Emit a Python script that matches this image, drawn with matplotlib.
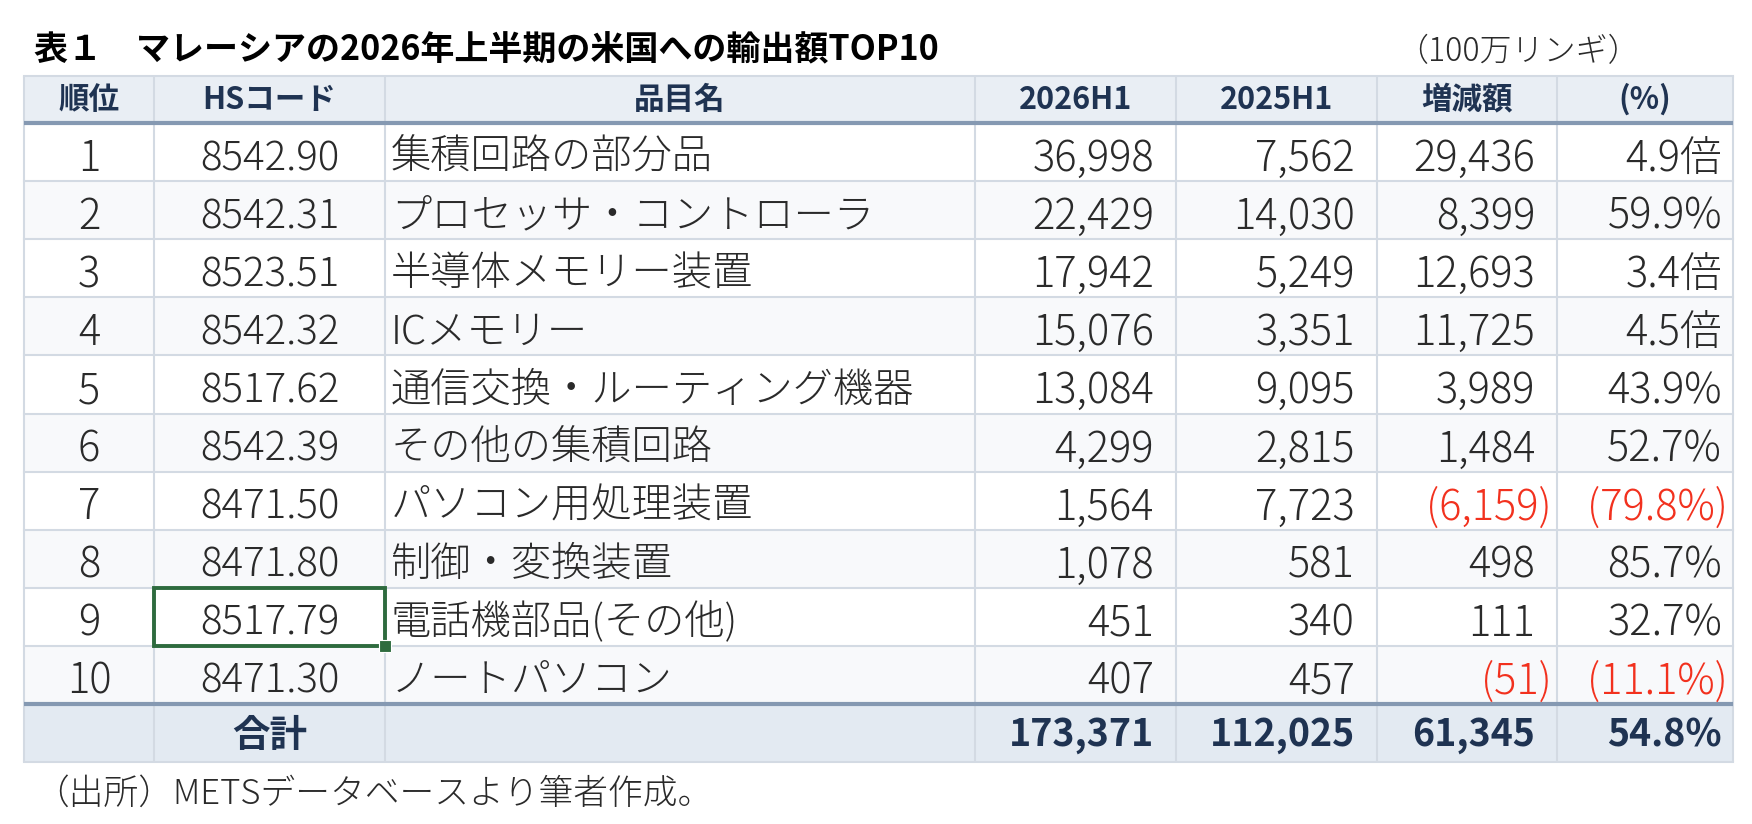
import matplotlib
matplotlib.use('Agg')
import matplotlib.pyplot as plt
from matplotlib.patches import Rectangle

plt.rcParams['font.family'] = ['Noto Sans CJK JP', 'DejaVu Sans']

# ---------------- data ----------------
title = "表１　マレーシアの2026年上半期の米国への輸出額TOP10"
unit = "（100万リンギ）"
source = "（出所）METSデータベースより筆者作成。"
headers = ["順位", "HSコード", "品目名", "2026H1", "2025H1", "増減額", "(%)"]
ranks = [1, 2, 3, 4, 5, 6, 7, 8, 9, 10]
hs_codes = ["8542.90", "8542.31", "8523.51", "8542.32", "8517.62",
            "8542.39", "8471.50", "8471.80", "8517.79", "8471.30"]
items = ["集積回路の部分品", "プロセッサ・コントローラ", "半導体メモリー装置",
         "ICメモリー", "通信交換・ルーティング機器", "その他の集積回路",
         "パソコン用処理装置", "制御・変換装置", "電話機部品(その他)", "ノートパソコン"]
val_2026 = [36998, 22429, 17942, 15076, 13084, 4299, 1564, 1078, 451, 407]
val_2025 = [7562, 14030, 5249, 3351, 9095, 2815, 7723, 581, 340, 457]
change = [29436, 8399, 12693, 11725, 3989, 1484, -6159, 498, 111, -51]
pct_labels = ["4.9倍", "59.9%", "3.4倍", "4.5倍", "43.9%", "52.7%",
              "(79.8%)", "85.7%", "32.7%", "(11.1%)"]
total_label = "合計"
total_2026 = 173371
total_2025 = 112025
total_change = 61345
total_pct = "54.8%"

# ---------------- layout / style ----------------
W, H = 1752, 824
col_edges = [24, 154, 385, 975, 1176, 1377, 1557, 1733]
head_top, head_bot = 76, 123
row_h = (704 - 123) / 10
total_bot = 762

navy = '#1F3352'
body_col = '#2A2A2A'
red = '#F2311E'
grid_col = '#D3DAE3'
thick_col = '#8599B2'
head_bg = '#E9EEF4'
total_bg = '#E3EAF2'
alt_bg = '#F8F9FB'
sel_col = '#2E6B3E'
body_w = 300

fig = plt.figure(figsize=(W / 100, H / 100), dpi=100)
ax = fig.add_axes([0, 0, 1, 1])
ax.set_xlim(0, W)
ax.set_ylim(H, 0)
ax.axis('off')

x0, x1 = col_edges[0], col_edges[-1]
n = len(ranks)
row_tops = [head_bot + i * row_h for i in range(n)]
total_top = head_bot + n * row_h

# backgrounds
ax.add_patch(Rectangle((x0, head_top), x1 - x0, head_bot - head_top, facecolor=head_bg, edgecolor='none', zorder=0))
for i, t in enumerate(row_tops):
    fc = 'white' if i % 2 == 0 else alt_bg
    ax.add_patch(Rectangle((x0, t), x1 - x0, row_h, facecolor=fc, edgecolor='none', zorder=0))
ax.add_patch(Rectangle((x0, total_top), x1 - x0, total_bot - total_top, facecolor=total_bg, edgecolor='none', zorder=0))

# grid lines
gw = 1.5
for xe in col_edges:
    ax.plot([xe, xe], [head_top, total_bot], color=grid_col, lw=gw, zorder=1, solid_capstyle='butt')
ax.plot([x0, x1], [head_top, head_top], color=grid_col, lw=gw, zorder=1)
for t in row_tops[1:]:
    ax.plot([x0, x1], [t, t], color=grid_col, lw=gw, zorder=1)
ax.plot([x0, x1], [total_bot, total_bot], color=grid_col, lw=gw, zorder=1)
ax.plot([x0, x1], [head_bot, head_bot], color=thick_col, lw=3.0, zorder=2, solid_capstyle='butt')
ax.plot([x0, x1], [total_top, total_top], color=thick_col, lw=3.0, zorder=2, solid_capstyle='butt')

# title, unit, source
ax.text(34, 50, title, fontsize=24.5, fontweight='bold', color='black', ha='left', va='center')
ax.text(1640, 52, unit, fontsize=23, color=body_col, ha='right', va='center', fontweight=body_w)
ax.text(34, 794, source, fontsize=25, color=body_col, ha='left', va='center', fontweight=body_w)

# header
head_y = (head_top + head_bot) / 2
for j, h in enumerate(headers):
    cx = (col_edges[j] + col_edges[j + 1]) / 2
    ax.text(cx, head_y, h, fontsize=22, fontweight='bold', color=navy, ha='center', va='center')

def fmt(v):
    return f"({abs(v):,})" if v < 0 else f"{v:,}"

pad_pos, pad_neg, pad_pct = 22, 5, 11
fs_num = 30
fs_txt = 29
dy = 7

def num_cell(j, y, v, **kw):
    s = fmt(v)
    neg = v < 0
    xr = col_edges[j + 1] - (pad_neg if neg else pad_pos)
    ax.text(xr, y, s, ha='right', va='center', color=red if neg else kw.get('color', body_col),
            fontsize=kw.get('fontsize', fs_num), fontweight=kw.get('fontweight', body_w))

def pct_cell(y, s, **kw):
    neg = s.startswith('(')
    xr = col_edges[7] - (pad_neg if neg else pad_pct)
    ax.text(xr, y, s, ha='right', va='center', color=red if neg else kw.get('color', body_col),
            fontsize=kw.get('fontsize', fs_num), fontweight=kw.get('fontweight', body_w))

for i in range(n):
    y = row_tops[i] + row_h / 2 + dy
    ax.text((col_edges[0] + col_edges[1]) / 2, y, str(ranks[i]), fontsize=fs_num, color=body_col,
            ha='center', va='center', fontweight=body_w)
    ax.text((col_edges[1] + col_edges[2]) / 2, y, hs_codes[i], fontsize=29, color=body_col,
            ha='center', va='center', fontweight=body_w)
    ax.text(col_edges[2] + 6, y - 1, items[i], fontsize=fs_txt, color=body_col,
            ha='left', va='center', fontweight=body_w)
    num_cell(3, y, val_2026[i])
    num_cell(4, y, val_2025[i])
    num_cell(5, y, change[i])
    pct_cell(y, pct_labels[i])

# total row
ty = (total_top + total_bot) / 2 + 2
ax.text((col_edges[1] + col_edges[2]) / 2, ty, total_label, fontsize=27, fontweight='bold', color=navy, ha='center', va='center')
for j, v in zip([3, 4, 5], [total_2026, total_2025, total_change]):
    num_cell(j, ty, v, color=navy, fontsize=27, fontweight='bold')
pct_cell(ty, total_pct, color=navy, fontsize=27, fontweight='bold')

# selected cell (row 9, HS code)
sel = 8
st, sb = row_tops[sel], row_tops[sel] + row_h
ax.add_patch(Rectangle((col_edges[1], st), col_edges[2] - col_edges[1], row_h,
                       facecolor='none', edgecolor=sel_col, lw=2.8, zorder=5))
ax.add_patch(Rectangle((col_edges[2] - 6, sb - 6), 12, 12, facecolor=sel_col, edgecolor='white', lw=0.8, zorder=6))

fig.savefig('out.png', dpi=100)
